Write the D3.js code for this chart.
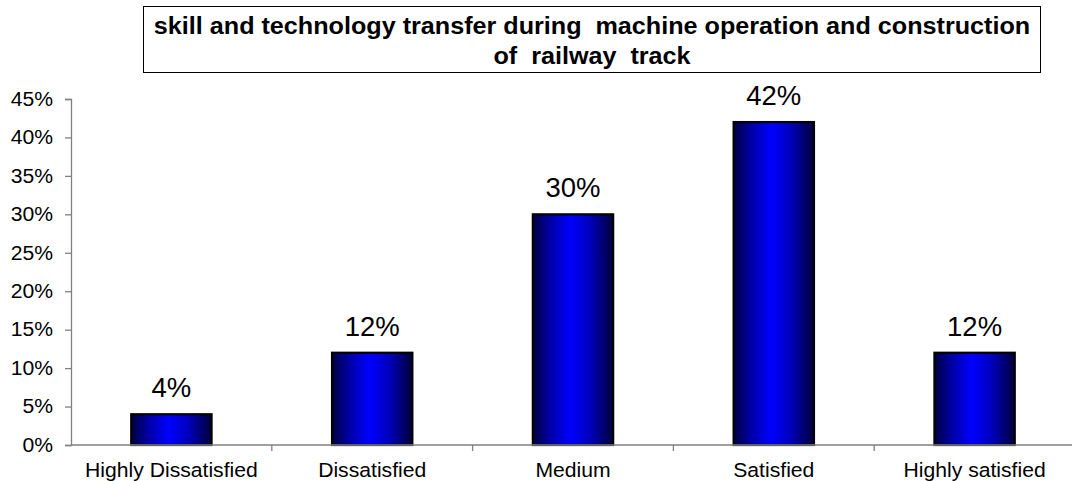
<!DOCTYPE html>
<html>
<head>
<meta charset="utf-8">
<script src="https://cdn.jsdelivr.net/npm/d3@7"></script>
<style>
  html, body { margin: 0; padding: 0; background: #fff; }
  svg { display: block; font-family: Arial, "Liberation Sans", sans-serif; }
</style>
</head>
<body>
<svg id="chart" width="1072" height="481"></svg>
<script>
const categories = ["Highly Dissatisfied", "Dissatisfied", "Medium", "Satisfied", "Highly satisfied"];
const values = [0.04, 0.12, 0.30, 0.42, 0.12];
const yTicks = [0, 0.05, 0.10, 0.15, 0.20, 0.25, 0.30, 0.35, 0.40, 0.45];
const titleLines = ["skill and technology transfer during  machine operation and construction", "of  railway  track"];

(function () {
const svg = d3.select("#chart");
const W = 1072, H = 481;
const mLeft = 71, mRight = 1075, mTop = 99, mBottom = 445;
const SX = 1.085; // horizontal stretch of the original raster

const x = d3.scaleBand().domain(categories).range([mLeft, mRight]).paddingInner(0).paddingOuter(0);
const y = d3.scaleLinear().domain([0, 0.45]).range([mBottom, mTop]);

// gradient
const defs = svg.append("defs");
const grad = defs.append("linearGradient").attr("id", "barGrad")
  .attr("x1", "0%").attr("x2", "100%").attr("y1", "0%").attr("y2", "0%");
grad.append("stop").attr("offset", "0%").attr("stop-color", "#000040");
grad.append("stop").attr("offset", "22%").attr("stop-color", "#0000a8");
grad.append("stop").attr("offset", "47%").attr("stop-color", "#0000ff");
grad.append("stop").attr("offset", "72%").attr("stop-color", "#0000b8");
grad.append("stop").attr("offset", "100%").attr("stop-color", "#000038");

// Title box
const tb = svg.append("g");
tb.append("rect").attr("x", 143.5).attr("y", 6.5).attr("width", 897).attr("height", 66)
  .attr("fill", "#fff").attr("stroke", "#000").attr("stroke-width", 1);
tb.selectAll("text").data(titleLines).join("text")
  .attr("transform", (d, i) => `translate(592,${34 + i * 30}) scale(${SX},1)`)
  .attr("text-anchor", "middle")
  .style("white-space", "pre")
  .attr("font-weight", "bold").attr("font-size", 23.2).attr("fill", "#000")
  .text(d => d);

// Y axis
const yAxis = d3.axisLeft(y).tickValues(yTicks).tickFormat(d3.format(".0%")).tickSize(6).tickPadding(12);
const gy = svg.append("g").attr("transform", `translate(${mLeft},0)`).call(yAxis);
gy.select(".domain").attr("stroke", "#808080").attr("stroke-width", 1.3);
gy.selectAll(".tick line").attr("stroke", "#808080").attr("stroke-width", 1.3);
gy.selectAll(".tick text").attr("font-size", 19.5).attr("fill", "#000")
  .attr("font-family", "Arial, 'Liberation Sans', sans-serif")
  .attr("transform", `translate(-18,0) scale(${SX},1)`).attr("x", 0);

// Bars
const barW = x.bandwidth() * 0.4;
svg.append("g").selectAll("rect").data(values).join("rect")
  .attr("x", (d, i) => x(categories[i]) + (x.bandwidth() - barW) / 2)
  .attr("y", d => y(d))
  .attr("width", barW)
  .attr("height", d => y(0) - y(d))
  .attr("fill", "url(#barGrad)")
  .attr("stroke", "#000").attr("stroke-width", 2.2);

// X axis
const xAxis = d3.axisBottom(x).tickSize(0).tickPadding(0).tickFormat("");
const gx = svg.append("g").attr("transform", `translate(0,${mBottom})`).call(xAxis);
gx.select(".domain").remove();
gx.append("line").attr("x1", mLeft).attr("x2", W).attr("y1", 0).attr("y2", 0)
  .attr("stroke", "#808080").attr("stroke-width", 1.3);
gx.selectAll(".bticks").data(categories.slice(1)).join("line")
  .attr("x1", d => x(d)).attr("x2", d => x(d)).attr("y1", 0).attr("y2", 6)
  .attr("stroke", "#808080").attr("stroke-width", 1.3);
svg.append("g").selectAll("text").data(categories).join("text")
  .attr("transform", d => `translate(${x(d) + x.bandwidth() / 2},476.5) scale(${SX},1)`)
  .attr("text-anchor", "middle")
  .attr("font-size", 19.5).attr("fill", "#000")
  .text(d => d);

// Value labels
svg.append("g").selectAll("text").data(values).join("text")
  .attr("x", (d, i) => x(categories[i]) + x.bandwidth() / 2)
  .attr("y", d => y(d) - 17)
  .attr("text-anchor", "middle")
  .attr("font-size", 27.5).attr("fill", "#000")
  .text(d => d3.format(".0%")(d));
})();
</script>
</body>
</html>
